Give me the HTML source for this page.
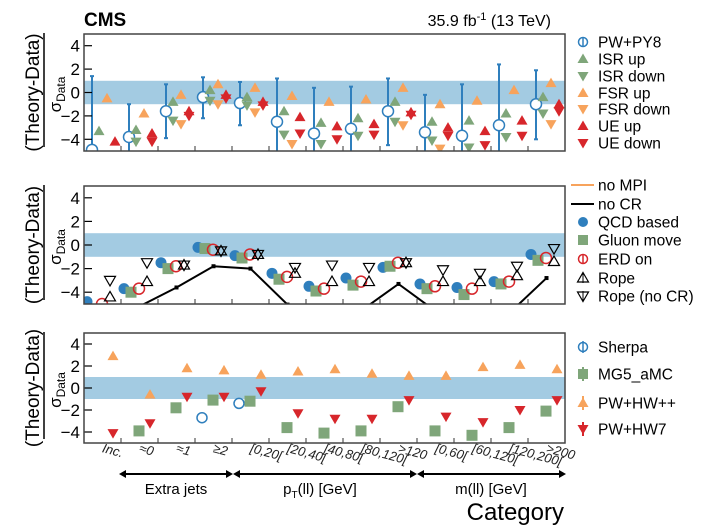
<!DOCTYPE html>
<html><head><meta charset="utf-8"><style>
html,body{margin:0;padding:0;background:#fff;}
svg{display:block;font-family:"Liberation Sans",Arial,sans-serif;}
</style></head><body>
<svg id="s" width="706" height="525" viewBox="0 0 706 525" xmlns="http://www.w3.org/2000/svg">
<defs>
<clipPath id="c1"><rect x="84" y="34" width="481" height="117"/></clipPath>
<clipPath id="c2"><rect x="84" y="186" width="481" height="118"/></clipPath>
<clipPath id="c3"><rect x="84" y="333" width="481" height="110"/></clipPath>
</defs>
<text x="84" y="26" font-size="19" font-weight="bold">CMS</text>
<text x="551" y="26" font-size="16" text-anchor="end">35.9 fb<tspan dy="-6" font-size="11">-1</tspan><tspan dy="6"> (13 TeV)</tspan></text>
<g id="g"></g>
<g font-size="13" font-style="italic" fill="#222" id="xl"></g>
<g stroke="#000" stroke-width="2" fill="#000">
<line x1="121" y1="474" x2="231" y2="474"/><line x1="235" y1="474" x2="415" y2="474"/><line x1="419" y1="474" x2="563" y2="474"/>
<path d="M119,474 l7,-4 v8z M233,474 l-7,-4 v8z M233,474 l7,-4 v8z M417,474 l-7,-4 v8z M417,474 l7,-4 v8z M566,474 l-7,-4 v8z" stroke="none"/>
</g>
<text x="176" y="494" font-size="15" text-anchor="middle">Extra jets</text>
<text x="320" y="494" font-size="15" text-anchor="middle">p<tspan dy="4" font-size="10">T</tspan><tspan dy="-4">(ll) [GeV]</tspan></text>
<text x="491" y="494" font-size="15" text-anchor="middle">m(ll) [GeV]</text>
<text x="564" y="520" font-size="24" text-anchor="end">Category</text>
</svg>
<script>
(function(){
var NS="http://www.w3.org/2000/svg",g=document.getElementById('g');
function el(t,a,p){var e=document.createElementNS(NS,t);for(var k in a)e.setAttribute(k,a[k]);(p||g).appendChild(e);return e;}
var B="#2f7fbd",G="#7fa67a",O="#f7a35c",R="#d7262b";
var P=[{t:34,b:151,c:'c1'},{t:186,b:304,c:'c2'},{t:333,b:443,c:'c3'}];
function Y(p,v){return p.t+(5-v)/10*(p.b-p.t);}
function X(i,o){return 84+37*i+o;}
function tu(x,y,f,s,sw,par){el('path',{d:'M'+x+','+(y-5.5)+' l5.5,9.5 h-11z',fill:f,stroke:s||'none','stroke-width':sw||1},par);}
function td(x,y,f,s,sw,par){el('path',{d:'M'+x+','+(y+5.5)+' l5.5,-9.5 h-11z',fill:f,stroke:s||'none','stroke-width':sw||1},par);}
function ylab(p){
 var cy=(p.t+p.b)/2;
 var t=el('text',{x:0,y:0,'font-size':19,'text-anchor':'middle',transform:'translate(39,'+cy+') rotate(-90)'});t.textContent='(Theory-Data)';
 el('line',{x1:44,y1:p.t-1,x2:44,y2:p.b-4,stroke:'#000','stroke-width':1.5});
 var s=el('text',{x:0,y:0,'font-size':17,'text-anchor':'middle',transform:'translate(61,'+(cy+2)+') rotate(-90)'});
 s.innerHTML='σ<tspan dy="4" font-size="12">Data</tspan>';
}
P.forEach(function(p,k){
 var cg=el('g',{'clip-path':'url(#'+p.c+')'});p.g=cg;
 el('rect',{x:84,y:Y(p,1),width:481,height:Y(p,-1)-Y(p,1),fill:'#a3cbe2'},cg);
 for(var i=1;i<13;i++)el('line',{x1:X(i,0),y1:p.b,x2:X(i,0),y2:p.b-5,stroke:'#333','stroke-width':1});
 [-4,-2,0,2,4].forEach(function(v){var y=Y(p,v);el('line',{x1:84,y1:y,x2:92,y2:y,stroke:'#000','stroke-width':1.2});
  var t=el('text',{x:80,y:y+6,'font-size':17,'text-anchor':'end'});t.textContent=v<0?'\u2212'+(-v):v;});
 ylab(p);
});
var p=P[0],c=p.g;
var d1=[[-4.9,-5.5,1.4,-3.3,null,-0.5,null,-4.2,null],[-3.8,-5.5,-1,-3.2,-4.2,-1.8,null,-3.5,-4.2],[-1.6,-3.9,0.7,-0.8,-2.4,-0.2,-2.7,-1.6,-2.0],[-0.4,-2.2,1.3,0.2,-0.7,0.7,-1.0,-0.2,-0.5],[-0.9,-2.8,0.9,-0.4,-1.1,0.4,-1.7,-0.8,-1.1],[-2.5,-5.5,1.2,-1.6,-3.6,-0.3,-4.4,-2.1,-3.5],[-3.5,-5.5,0.4,-2.6,-4.4,-0.8,null,-2.9,-4.0],[-3.1,-5.5,0.5,-2.2,-3.7,-0.6,null,-2.7,-3.6],[-1.6,-4.5,1.2,-0.8,-2.5,0.4,-2.8,-1.7,-1.9],[-3.4,-5.5,-0.2,-2.5,-4.1,-1.0,-4.8,-3.0,-3.7],[-3.7,-5.5,0.7,-2.4,-4.7,-0.7,null,-3.3,-4.5],[-2.8,-5.5,2.4,-1.8,-3.8,0.2,null,-2.4,-3.7],[-1.0,-4.0,1.9,-0.4,-1.8,0.8,-2.7,-1.0,-1.6]];
d1.forEach(function(d,i){var x=X(i,8);
 el('line',{x1:x,y1:Y(p,d[1]),x2:x,y2:Y(p,d[2]),stroke:B,'stroke-width':2},c);
 el('line',{x1:x-2,y1:Y(p,d[2]),x2:x+2,y2:Y(p,d[2]),stroke:B,'stroke-width':2},c);
 el('line',{x1:x-2,y1:Y(p,d[1]),x2:x+2,y2:Y(p,d[1]),stroke:B,'stroke-width':2},c);
 el('circle',{cx:x,cy:Y(p,d[0]),r:5.5,fill:'#fff',stroke:B,'stroke-width':1.5},c);
 if(d[3]!=null)tu(X(i,15),Y(p,d[3]),G,0,0,c); if(d[4]!=null)td(X(i,15),Y(p,d[4]),G,0,0,c);
 if(d[5]!=null)tu(X(i,23),Y(p,d[5]),O,0,0,c); if(d[6]!=null)td(X(i,23),Y(p,d[6]),O,0,0,c);
 if(d[7]!=null)tu(X(i,31),Y(p,d[7]),R,0,0,c); if(d[8]!=null)td(X(i,31),Y(p,d[8]),R,0,0,c);
});
p=P[1];c=p.g;
var nc=[-5.2,-5.2,-3.6,-1.8,-2.0,-5.05,-7,-5.55,-3.3,-5.6,-7,-5.76,-2.8];
var pts=nc.map(function(v,i){return X(i,18.5)+','+Y(p,v);}).join(' ');
el('polyline',{points:pts,fill:'none',stroke:'#000','stroke-width':2},c);
nc.forEach(function(v,i){el('rect',{x:X(i,18.5)-2,y:Y(p,v)-2,width:4,height:4,fill:'#000'},c);});
var d2=[[-4.8,null,-5,-4.4,-3.0],[-3.7,-4.0,-3.7,-3.1,-1.5],[-1.5,-2.0,-1.8,-1.7,-1.7],[-0.2,-0.3,-0.4,-0.5,-0.5],[-0.9,-1.1,-0.8,-0.8,-0.8],[-2.4,-2.9,-2.7,-2.4,-1.9],[-3.5,-3.9,-3.7,-3.1,-1.7],[-2.8,-3.4,-3.1,-3.1,-1.9],[-1.9,-1.8,-1.5,-1.5,-1.5],[-3.3,-3.7,-3.5,-3.1,-2.1],[-3.6,-4.2,-3.7,-3.1,-2.4],[-3.1,-3.3,-3.1,-2.6,-1.8],[-0.8,-1.3,-1.1,-1.4,-0.3]];
d2.forEach(function(d,i){
 el('circle',{cx:X(i,3),cy:Y(p,d[0]),r:5.5,fill:B},c);
 if(d[1]!=null)el('rect',{x:X(i,10)-5.5,y:Y(p,d[1])-5.5,width:11,height:11,fill:G},c);
 el('circle',{cx:X(i,18),cy:Y(p,d[2]),r:5.5,fill:'none',stroke:R,'stroke-width':1.5},c);
 tu(X(i,26),Y(p,d[3]),'none','#000',1.2,c); td(X(i,26),Y(p,d[4]),'none','#000',1.2,c);
});
p=P[2];c=p.g;
var d3=[[null,null,2.9,-4.1],[null,-3.9,-0.6,-3.2],[null,-1.8,1.8,-0.8],[-2.7,-1.1,1.6,-0.8],[-1.4,-1.2,1.2,-0.3],[null,-3.6,1.5,-2.3],[null,-4.1,1.7,-2.8],[null,-3.9,1.3,-2.8],[null,-1.7,1.1,-1.1],[null,-3.9,1.1,-2.6],[null,-4.3,1.9,-3.1],[null,-3.6,2.1,-2.0],[null,-2.1,1.7,-1.1]];
d3.forEach(function(d,i){
 if(d[0]!=null)el('circle',{cx:X(i,7),cy:Y(p,d[0]),r:5,fill:'#fff',stroke:B,'stroke-width':1.5},c);
 if(d[1]!=null)el('rect',{x:X(i,18)-5.5,y:Y(p,d[1])-5.5,width:11,height:11,fill:G},c);
 tu(X(i,29),Y(p,d[2]),O,0,0,c); td(X(i,29),Y(p,d[3]),R,0,0,c);
});
P.forEach(function(p){el('rect',{x:84,y:p.t,width:481,height:p.b-p.t,fill:'none',stroke:'#444','stroke-width':1.5});});
function lt(y,s){var t=el('text',{x:598,y:y+5.5,'font-size':15.5});t.textContent=s;}
var L1=[42,59,76,93,109,126,143];
el('circle',{cx:583,cy:L1[0],r:4.5,fill:'#fff',stroke:B,'stroke-width':1.5});el('line',{x1:583,y1:L1[0]-5,x2:583,y2:L1[0]+5,stroke:B,'stroke-width':1.5});lt(L1[0],'PW+PY8');
tu(583,L1[1],G);lt(L1[1],'ISR up');td(583,L1[2],G);lt(L1[2],'ISR down');
tu(583,L1[3],O);lt(L1[3],'FSR up');td(583,L1[4],O);lt(L1[4],'FSR down');
tu(583,L1[5],R);lt(L1[5],'UE up');td(583,L1[6],R);lt(L1[6],'UE down');
var L2=[185,204,222,240,259,278,296];
el('line',{x1:571,y1:L2[0],x2:594,y2:L2[0],stroke:O,'stroke-width':2});lt(L2[0],'no MPI');
el('line',{x1:571,y1:L2[1],x2:594,y2:L2[1],stroke:'#000','stroke-width':2});lt(L2[1],'no CR');
el('circle',{cx:583,cy:L2[2],r:5,fill:B});lt(L2[2],'QCD based');
el('rect',{x:578,y:L2[3]-5,width:10,height:10,fill:G});lt(L2[3],'Gluon move');
el('circle',{cx:583,cy:L2[4],r:4.5,fill:'none',stroke:R,'stroke-width':1.5});el('line',{x1:583,y1:L2[4]-5,x2:583,y2:L2[4]+5,stroke:R,'stroke-width':1.5});lt(L2[4],'ERD on');
tu(583,L2[5],'none','#000',1.2);el('line',{x1:583,y1:L2[5]-5,x2:583,y2:L2[5]+5,stroke:'#000'});lt(L2[5],'Rope');
td(583,L2[6],'none','#000',1.2);el('line',{x1:583,y1:L2[6]-5,x2:583,y2:L2[6]+5,stroke:'#000'});lt(L2[6],'Rope (no CR)');
var L3=[347,374,403,429];
el('circle',{cx:583,cy:L3[0],r:4.5,fill:'#fff',stroke:B,'stroke-width':1.5});el('line',{x1:583,y1:L3[0]-6,x2:583,y2:L3[0]+6,stroke:B,'stroke-width':1.5});lt(L3[0],'Sherpa');
el('rect',{x:578,y:L3[1]-5,width:10,height:10,fill:G});el('line',{x1:583,y1:L3[1]-7,x2:583,y2:L3[1]+7,stroke:G,'stroke-width':2});lt(L3[1],'MG5_aMC');
tu(583,L3[2],O);el('line',{x1:583,y1:L3[2]-7,x2:583,y2:L3[2]+7,stroke:O,'stroke-width':2});lt(L3[2],'PW+HW++');
td(583,L3[3],R);el('line',{x1:583,y1:L3[3]-7,x2:583,y2:L3[3]+7,stroke:R,'stroke-width':2});lt(L3[3],'PW+HW7');
var xl=document.getElementById('xl');
['Inc.','\u22480','\u22481','\u22652','[0,20[','[20,40[','[40,80[','[80,120[','>120','[0,60[','[60,120[','[120,200[','>200'].forEach(function(s,i){
 var x=X(i,17.5);var t=el('text',{x:0,y:0,transform:'translate('+x+',452) rotate(15)'},xl);t.textContent=s;});
})();
</script>
</body></html>
